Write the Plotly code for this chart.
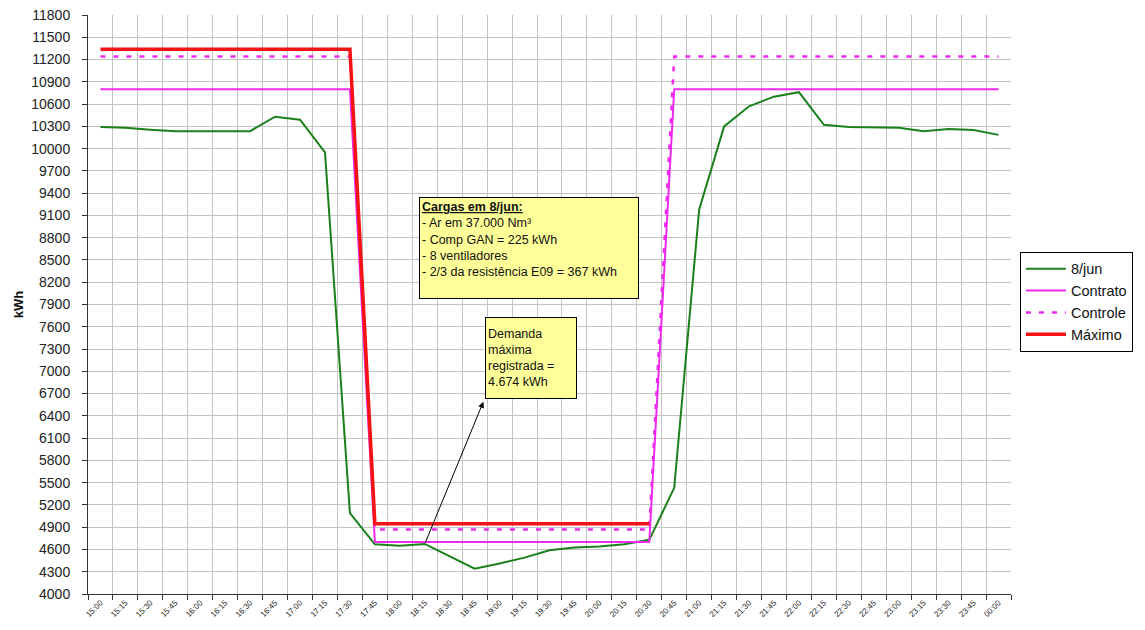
import plotly.graph_objects as go

# 15-minute intervals from 15:00 to 00:00
times = ["15:00", "15:15", "15:30", "15:45", "16:00", "16:15", "16:30", "16:45",
         "17:00", "17:15", "17:30", "17:45", "18:00", "18:15", "18:30", "18:45",
         "19:00", "19:15", "19:30", "19:45", "20:00", "20:15", "20:30", "20:45",
         "21:00", "21:15", "21:30", "21:45", "22:00", "22:15", "22:30", "22:45",
         "23:00", "23:15", "23:30", "23:45", "00:00"]

# measured demand on 8/jun (kWh)
demanda_8jun = [10290, 10280, 10255, 10235, 10235, 10235, 10235, 10430,
                10390, 9950, 5090, 4670, 4650, 4674, 4510, 4340,
                4410, 4490, 4590, 4625, 4640, 4670, 4730, 5430,
                9180, 10300, 10570, 10700, 10760, 10320, 10290, 10285,
                10280, 10235, 10265, 10250, 10185]

# contracted demand, control level and maximum level (kWh)
contrato = [10800] * 11 + [4700] * 12 + [10800] * 14
controle = [11240] * 11 + [4870] * 12 + [11240] * 14
maximo = [11340] * 11 + [4945] * 12 + [None] * 14

y_ticks = list(range(4000, 11801, 300))

GREEN = "#1A801A"
MAGENTA = "#F028F0"
RED = "#F41212"
FONT = "Liberation Sans, Arial, sans-serif"

fig = go.Figure()
fig.add_trace(go.Scatter(x=times, y=demanda_8jun, name="8/jun", mode="lines",
                         line=dict(color=GREEN, width=2)))
fig.add_trace(go.Scatter(x=times, y=contrato, name="Contrato", mode="lines",
                         line=dict(color=MAGENTA, width=2)))
fig.add_trace(go.Scatter(x=times, y=controle, name="Controle", mode="lines",
                         line=dict(color=MAGENTA, width=2.5, dash="5px,8px")))
fig.add_trace(go.Scatter(x=times, y=maximo, name="Máximo", mode="lines",
                         line=dict(color=RED, width=3.5)))

box_font = dict(family=FONT, size=12.5, color="#111")

fig.add_annotation(
    xref="paper", yref="paper", x=0.4773, y=0.598,
    text=("<b><u>Cargas em 8/jun:</u></b><br>- Ar em 37.000 Nm³<br>"
          "- Comp GAN = 225 kWh<br>- 8 ventiladores<br>"
          "- 2/3 da resistência E09 = 367 kWh"),
    showarrow=False, align="left", valign="top",
    width=214, height=96, bgcolor="#FFFF99", bordercolor="#000",
    borderwidth=1, borderpad=2, font=box_font,
)

# arrow from the recorded maximum to its note
fig.add_annotation(
    xref="x", yref="y", x=15.35, y=6590,
    axref="x", ayref="y", ax=13, ay=demanda_8jun[13],
    text="", showarrow=True, arrowhead=2, arrowsize=1.2, arrowwidth=1,
    arrowcolor="#000",
)

fig.add_annotation(
    xref="paper", yref="paper", x=0.48, y=0.407,
    text="Demanda<br>máxima<br>registrada =<br>4.674 kWh",
    showarrow=False, align="left", valign="middle",
    width=86, height=76, bgcolor="#FFFF99", bordercolor="#000",
    borderwidth=1, borderpad=2, font=box_font,
)

fig.update_layout(
    width=1145, height=630,
    margin=dict(l=88, r=132, t=15, b=36),
    paper_bgcolor="white", plot_bgcolor="white",
    font=dict(family=FONT, color="#222"),
    showlegend=True,
    legend=dict(
        x=1.0097, y=0.591, xanchor="left", yanchor="top",
        bordercolor="#000", borderwidth=1, bgcolor="white",
        font=dict(size=14.5, color="#111"), tracegroupgap=0,
        itemwidth=40,
    ),
    xaxis=dict(
        type="category", range=[-0.5, len(times) - 0.5], automargin=False,
        tickson="boundaries", ticks="outside", ticklen=5, tickcolor="#333",
        showline=True, linecolor="#333", linewidth=1,
        showgrid=True, gridcolor="#C4C4C4", gridwidth=1,
        tickangle=-45, tickfont=dict(size=8, color="#222"),
    ),
    yaxis=dict(
        range=[4000, 11800], tickvals=y_ticks, tickformat="d", automargin=False,
        ticks="outside", ticklen=5, tickcolor="#333", ticklabelstandoff=9,
        showline=True, linecolor="#333", linewidth=1,
        showgrid=True, gridcolor="#C4C4C4", gridwidth=1,
        tickfont=dict(size=14, color="#222"),
        title=dict(text="<b>kWh</b>", font=dict(size=13, color="#111"), standoff=4),
        zeroline=False,
    ),
)

fig.write_html("out.html")
